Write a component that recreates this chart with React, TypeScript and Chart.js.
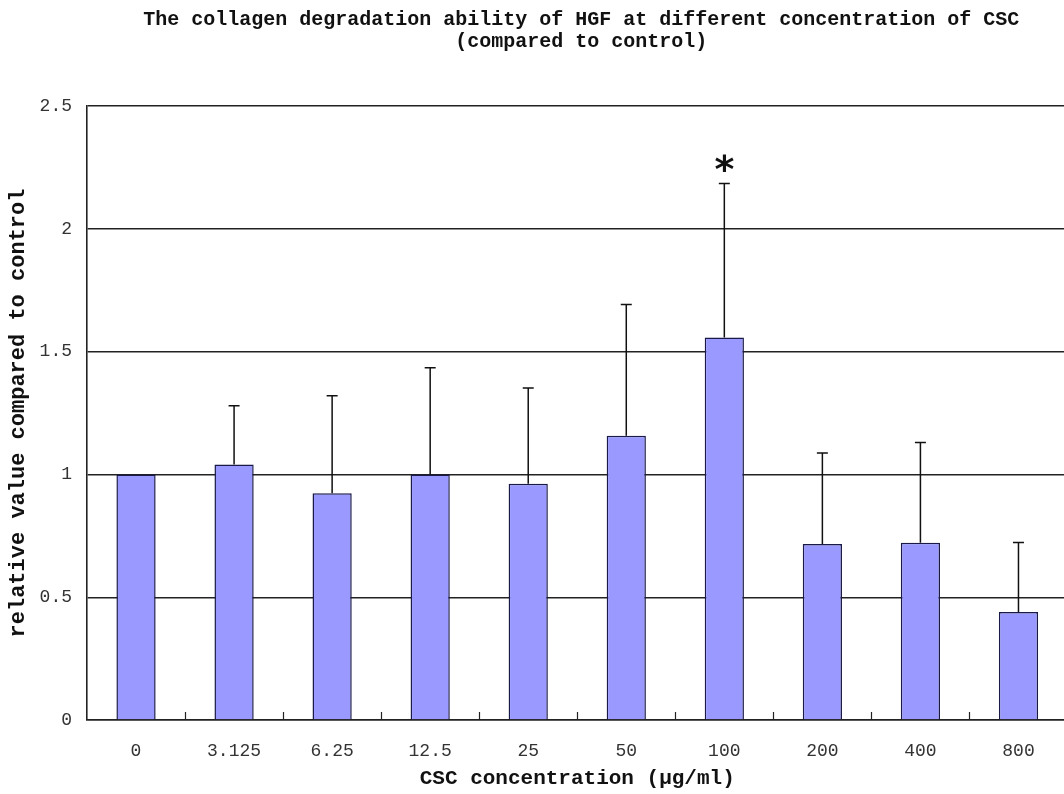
import React, { useEffect, useRef } from 'react';
import { Chart, registerables } from 'chart.js';

Chart.register(...registerables);

const categories = ['0', '3.125', '6.25', '12.5', '25', '50', '100', '200', '400', '800'];
const meanValues = [1.0, 1.04, 0.923, 1.0, 0.962, 1.157, 1.557, 0.717, 0.722, 0.44];
const errorValues = [0, 0.24, 0.397, 0.434, 0.39, 0.535, 0.627, 0.37, 0.408, 0.283];
const significance = ['', '', '', '', '', '', '*', '', '', ''];
const yMin = 0;
const yMax = 2.5;
const yStep = 0.5;
const titleLines = [
  'The collagen degradation ability of HGF at different concentration of CSC',
  '(compared to control)',
];
const xTitle = 'CSC concentration (\u03bcg/ml)';
const yTitle = 'relative value compared to control';

const MONO = '"Liberation Mono", "DejaVu Sans Mono", monospace';

const CANVAS_W = 1072;
const CANVAS_H = 794;

const overlayPlugin = {
  id: 'overlay',
  afterDatasetsDraw(chart: any) {
    const { ctx, chartArea } = chart;
    const yScale = chart.scales.y;
    const meta = chart.getDatasetMeta(0);
    ctx.save();
    // error bars
    ctx.strokeStyle = '#111';
    ctx.lineWidth = 1.5;
    meta.data.forEach((bar: any, i: number) => {
      const err = errorValues[i];
      const topY = yScale.getPixelForValue(meanValues[i] + err);
      if (err > 0) {
        ctx.beginPath();
        ctx.moveTo(bar.x, bar.y);
        ctx.lineTo(bar.x, topY);
        ctx.moveTo(bar.x - 5.5, topY);
        ctx.lineTo(bar.x + 5.5, topY);
        ctx.stroke();
      }
      if (significance[i]) {
        ctx.fillStyle = '#111';
        ctx.font = `bold 38px "DejaVu Sans", sans-serif`;
        ctx.textAlign = 'center';
        ctx.textBaseline = 'alphabetic';
        ctx.fillText(significance[i], bar.x, topY - 2);
      }
    });
    // inner tick marks on the x axis (category boundaries)
    const xScale = chart.scales.x;
    const n = categories.length;
    const w = (xScale.right - xScale.left) / n;
    ctx.strokeStyle = '#222';
    ctx.lineWidth = 1.2;
    for (let k = 1; k < n; k++) {
      const x = Math.round(xScale.left + k * w) + 0.5;
      ctx.beginPath();
      ctx.moveTo(x, chartArea.bottom);
      ctx.lineTo(x, chartArea.bottom - 8);
      ctx.stroke();
    }
    ctx.restore();
  },
  afterDraw(chart: any) {
    const { ctx, chartArea } = chart;
    ctx.save();
    ctx.fillStyle = '#111';
    ctx.font = `bold 20px ${MONO}`;
    ctx.textAlign = 'center';
    ctx.textBaseline = 'middle';
    const cx = (chartArea.left + chartArea.right) / 2 + 4;
    titleLines.forEach((line, i) => {
      ctx.fillText(line, cx, 20 + i * 22);
    });
    ctx.restore();
  },
};

export default function App() {
  const canvasRef = useRef<HTMLCanvasElement | null>(null);

  useEffect(() => {
    const canvas = canvasRef.current;
    if (!canvas) return;
    const chart = new Chart(canvas, {
      type: 'bar',
      data: {
        labels: categories,
        datasets: [
          {
            data: meanValues,
            backgroundColor: '#9999FF',
            borderColor: '#1a1a48',
            borderWidth: 1.5,
            barPercentage: 0.4,
            categoryPercentage: 1.0,
          },
        ],
      },
      options: {
        responsive: false,
        animation: false,
        devicePixelRatio: 1,
        layout: { padding: { top: 106, right: 4.5, bottom: 0, left: 0 } },
        plugins: {
          legend: { display: false },
          title: { display: false },
          tooltip: { enabled: false },
        },
        scales: {
          x: {
            type: 'category',
            offset: true,
            grid: { display: false, drawTicks: false },
            border: { display: true, color: '#222', width: 1.6 },
            ticks: {
              color: '#333',
              font: { family: MONO, size: 18 },
              padding: 20,
              maxRotation: 0,
              autoSkip: false,
            },
            title: {
              display: true,
              text: xTitle,
              color: '#111',
              font: { family: MONO, size: 21, weight: 'bold' },
              padding: { top: 0, bottom: 3 },
            },
            afterFit(scale: any) {
              scale.height = 74;
            },
          },
          y: {
            min: yMin,
            max: yMax,
            grid: { color: '#222', lineWidth: 1.4, drawTicks: false },
            border: { display: true, color: '#222', width: 1.6 },
            ticks: {
              stepSize: yStep,
              color: '#333',
              font: { family: MONO, size: 18 },
              padding: 15,
              callback: (v: any) => String(Number(v)),
            },
            title: {
              display: true,
              text: yTitle,
              color: '#111',
              font: { family: MONO, size: 22, weight: 'bold' },
              padding: { top: 5, bottom: 0 },
            },
            afterFit(scale: any) {
              scale.width = 87;
            },
          },
        },
      },
      plugins: [overlayPlugin],
    });
    return () => chart.destroy();
  }, []);

  return (
    <div
      style={{
        position: 'fixed',
        left: 0,
        top: 0,
        width: 1064,
        height: 794,
        overflow: 'hidden',
        background: '#fff',
      }}
    >
      <canvas
        ref={canvasRef}
        width={CANVAS_W}
        height={CANVAS_H}
        style={{ width: CANVAS_W, height: CANVAS_H, display: 'block' }}
      />
    </div>
  );
}
